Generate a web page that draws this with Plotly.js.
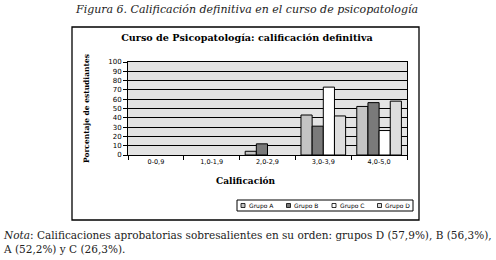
<!DOCTYPE html>
<html>
<head>
<meta charset="utf-8">
<script src="https://cdn.plot.ly/plotly-3.0.1.min.js"></script>
<style>html,body{margin:0;padding:0;background:#fff;}#chart{width:496px;height:260px;}</style>
</head>
<body>
<div id="chart"></div>
<script>
// ---- data ----
const categories = ['0-0,9', '1,0-1,9', '2,0-2,9', '3,0-3,9', '4,0-5,0'];
const groupNames = ['Grupo A', 'Grupo B', 'Grupo C', 'Grupo D'];
const grupoA = [0, 0, 4, 43, 52.2];
const grupoB = [0, 0, 12, 31, 56.3];
const grupoC = [0, 0, 0, 73, 26.3];
const grupoD = [0, 0, 0, 42, 57.9];
const yTicks = [0, 10, 20, 30, 40, 50, 60, 70, 80, 90, 100];

const chartTitle = 'Curso de Psicopatología: calificación definitiva';
const figCaption = 'Figura 6. Calificación definitiva en el curso de psicopatología';
const xTitle = 'Calificación';
const yTitle = 'Porcentaje de estudiantes';
const noteLines = ['<i>Nota</i>: Calificaciones aprobatorias sobresalientes en su orden: grupos D (57,9%), B (56,3%),',
                   'A (52,2%) y C (26,3%).'];

// ---- styling ----
const colors = ['#c4c4c4', '#7a7a7a', '#ffffff', '#dddddd'];
const W = 496, H = 260;
const M = {l: 128, r: 89, t: 62, b: 105};
const plotW = W - M.l - M.r, plotH = H - M.t - M.b;
const px = x => (x - M.l) / plotW;
const py = y => (H - M.b - y) / plotH;
const serif = 'DejaVu Serif, serif';
const sans = 'DejaVu Sans, sans-serif';

const series = [grupoA, grupoB, grupoC, grupoD];
const traces = series.map((vals, i) => ({
  type: 'bar',
  name: groupNames[i],
  x: categories,
  // empty categories carry no bar in the reference
  y: vals.map(v => (v === 0 ? null : v)),
  marker: {color: colors[i], line: {color: '#000', width: 1}},
  showlegend: false,
  hoverinfo: 'skip'
}));

// outer frame + compact legend
const shapes = [
  {type: 'rect', xref: 'paper', yref: 'paper', x0: px(72), x1: px(419), y0: py(220), y1: py(27),
   line: {color: '#000', width: 1.3}, fillcolor: 'rgba(0,0,0,0)', layer: 'below'},
  {type: 'rect', xref: 'paper', yref: 'paper', x0: px(237), x1: px(413), y0: py(211), y1: py(200),
   line: {color: '#000', width: 1}, fillcolor: '#fff'}
];
const annotations = [
  {xref: 'paper', yref: 'paper', x: px(246), y: py(9.5), text: '<i>' + figCaption + '</i>', showarrow: false,
   xanchor: 'center', yanchor: 'middle', font: {family: serif, size: 11, color: '#222'}},
  {xref: 'paper', yref: 'paper', x: px(1), y: py(226.5), text: noteLines.join('<br>'), showarrow: false,
   xanchor: 'left', yanchor: 'top', align: 'left', font: {family: serif, size: 10.5, color: '#222'}},
  {xref: 'paper', yref: 'paper', x: px(245.5), y: py(181), text: '<b>' + xTitle + '</b>', showarrow: false,
   xanchor: 'center', yanchor: 'middle', font: {family: serif, size: 9, color: '#000'}}
];
groupNames.forEach((g, i) => {
  const sx = 241 + i * 45.5, sy = 205.5;
  shapes.push({type: 'rect', xref: 'paper', yref: 'paper', x0: px(sx), x1: px(sx + 4), y0: py(sy + 2), y1: py(sy - 2),
    line: {color: '#000', width: 0.8}, fillcolor: colors[i]});
  annotations.push({xref: 'paper', yref: 'paper', x: px(sx + 5.5), y: py(sy), text: g, showarrow: false,
    xanchor: 'left', yanchor: 'middle', font: {family: sans, size: 6, color: '#000'}});
});

const layout = {
  width: W, height: H,
  margin: M,
  paper_bgcolor: '#fff',
  plot_bgcolor: '#e3e3e3',
  barmode: 'group',
  bargap: 0.2,
  bargroupgap: 0,
  showlegend: false,
  title: {text: '<b>' + chartTitle + '</b>', x: 247 / W, y: 1 - 38 / H, xanchor: 'center', yanchor: 'middle',
          font: {family: serif, size: 9.6, color: '#000'}},
  xaxis: {
    type: 'category', tickson: 'boundaries', ticks: 'outside', ticklen: 4, tickcolor: '#000',
    showline: true, linecolor: '#000', linewidth: 1, mirror: true,
    tickfont: {family: sans, size: 6.5, color: '#000'},
    automargin: false
  },
  yaxis: {
    range: [0, 100], tickvals: yTicks, ticks: 'outside', ticklen: 4, tickcolor: '#000',
    showline: true, linecolor: '#000', linewidth: 1, mirror: true,
    showgrid: true, gridcolor: '#000', gridwidth: 1, zeroline: false,
    tickfont: {family: sans, size: 7, color: '#000'},
    title: {text: '<b>' + yTitle + '</b>', standoff: 17, font: {family: serif, size: 7.5, color: '#000'}},
    automargin: false
  },
  shapes: shapes,
  annotations: annotations
};

Plotly.newPlot('chart', traces, layout, {staticPlot: true, displayModeBar: false});
</script>
</body>
</html>
